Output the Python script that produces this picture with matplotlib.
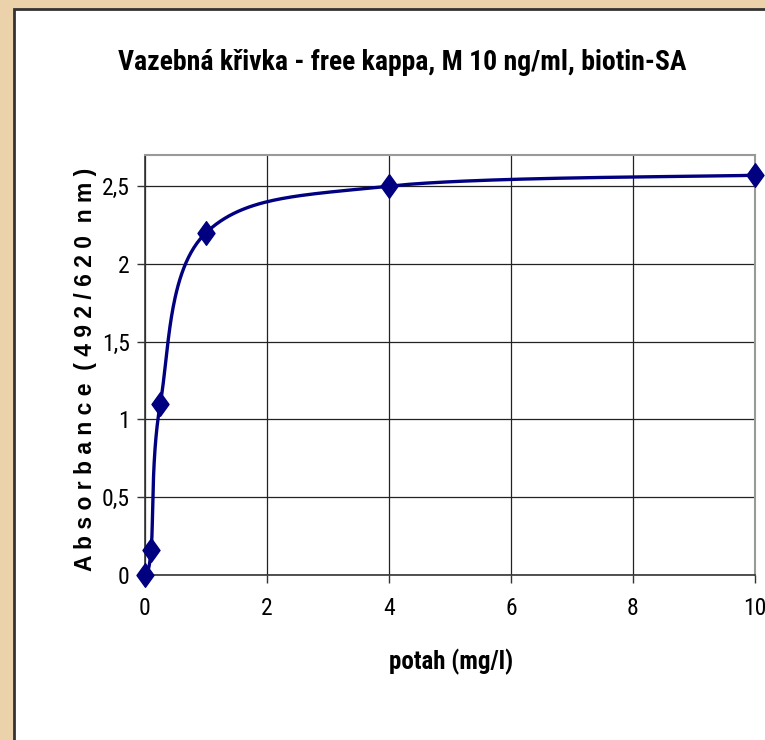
import numpy as np
import matplotlib
matplotlib.use("Agg")
import matplotlib.pyplot as plt
from matplotlib.patches import Rectangle
from matplotlib.path import Path

x_values = [0, 0.1, 0.25, 1, 4, 10]
y_values = [0, 0.16, 1.1, 2.2, 2.5, 2.57]
x_ticks = [0, 2, 4, 6, 8, 10]
y_ticks = [0, 0.5, 1, 1.5, 2, 2.5]
y_tick_labels = ["0", "0,5", "1", "1,5", "2", "2,5"]
title = "Vazebná křivka - free kappa, M 10 ng/ml, biotin-SA"
xlabel = "potah (mg/l)"
ylabel = "A b s o r b a n c e  ( 4 9 2 / 6 2 0  n m )"

W, H = 765, 740
fig = plt.figure(figsize=(W / 100, H / 100), dpi=100)
fig.patch.set_facecolor("#EBD2AA")
fig.patches.append(Rectangle((14 / W, -0.1), 2, 1.1 - 9.5 / H, transform=fig.transFigure,
                             facecolor="white", edgecolor="#333333", linewidth=2, zorder=-5))

narrow = ["Roboto Condensed", "DejaVu Sans"]

ax = fig.add_axes([145 / W, (H - 575) / H, 610 / W, 420 / H])
ax.set_zorder(2)
ax.set_facecolor("white")
ax.set_xlim(0, 10)
ax.set_ylim(0, 2.7)
ax.set_xticks(x_ticks)
ax.set_yticks(y_ticks)
ax.set_xticklabels([str(t) for t in x_ticks], family=narrow, fontsize=17)
ax.set_yticklabels(y_tick_labels, family=narrow, fontsize=17)
ax.tick_params(axis="both", direction="out", length=6, width=1, color="#333333", pad=5)
ax.tick_params(axis="x", pad=10)
for s in ["left", "bottom"]:
    ax.spines[s].set_color("#333333")
    ax.spines[s].set_linewidth(1.2)
for s in ["top", "right"]:
    ax.spines[s].set_color("#999999")
    ax.spines[s].set_linewidth(1.5)
ax.grid(True, color="#222222", linewidth=0.9)
ax.set_axisbelow(True)

# Excel-like smoothed line in display space
fig.canvas.draw()
pts = ax.transData.transform(np.column_stack([x_values, y_values]))
n = len(pts)
curve = []
for i in range(n - 1):
    p0 = pts[i - 1] if i > 0 else pts[i]
    p1 = pts[i]
    p2 = pts[i + 1]
    p3 = pts[i + 2] if i + 2 < n else pts[i + 1]
    c1 = p1 + (p2 - p0) / 6
    c2 = p2 - (p3 - p1) / 6
    t = np.linspace(0, 1, 60)[:, None]
    seg = (1 - t) ** 3 * p1 + 3 * (1 - t) ** 2 * t * c1 + 3 * (1 - t) * t ** 2 * c2 + t ** 3 * p2
    curve.append(seg if i == 0 else seg[1:])
curve = np.vstack(curve)
cdata = ax.transData.inverted().transform(curve)
ax.plot(cdata[:, 0], cdata[:, 1], color="#000080", linewidth=2.4, clip_on=False, zorder=3)

diamond = Path([(0, 1), (0.72, 0), (0, -1), (-0.72, 0), (0, 1)],
               [Path.MOVETO, Path.LINETO, Path.LINETO, Path.LINETO, Path.CLOSEPOLY])
ax.plot(x_values, y_values, linestyle="none", marker=diamond, markersize=17,
        color="#000080", clip_on=False, zorder=4)

fig.text(402 / W, 1 - 62 / H, title, family=narrow, fontweight="bold", fontsize=20,
         ha="center", va="center")
fig.text(451 / W, 1 - 662 / H, xlabel, family=narrow, fontweight="bold", fontsize=18,
         ha="center", va="center")
fig.text(86 / W, 1 - 369 / H, ylabel, family=["Liberation Sans", "DejaVu Sans"], fontweight="bold",
         fontsize=16.5, rotation=90, ha="center", va="center")

fig.savefig("out.png", dpi=100, facecolor=fig.get_facecolor())
